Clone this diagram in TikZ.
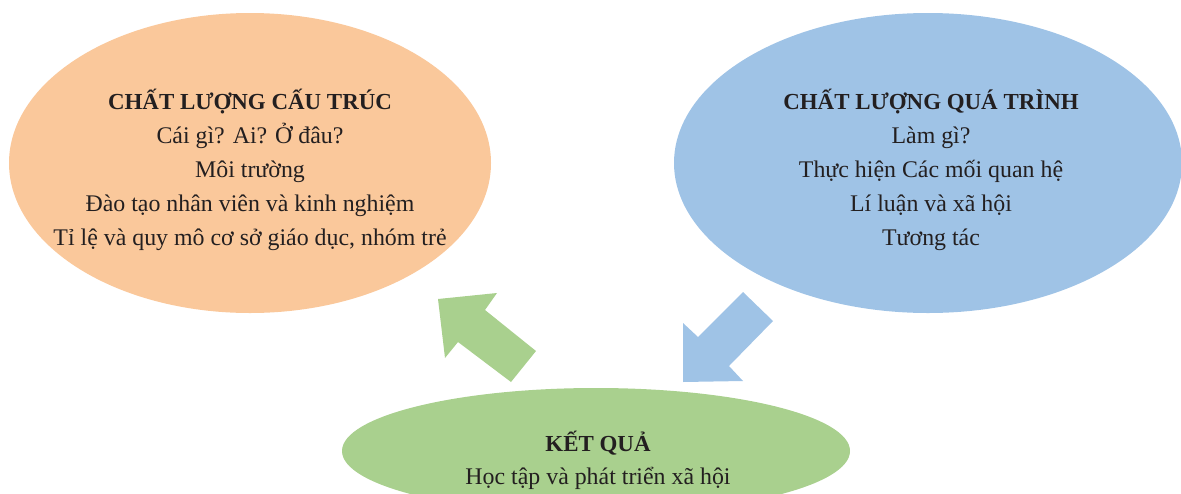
\documentclass[tikz,border=0pt]{standalone}
\usepackage{fontspec}
\setmainfont{Liberation Serif}
\usetikzlibrary{shapes.geometric}
\definecolor{orangefill}{RGB}{250,200,155}
\definecolor{bluefill}{RGB}{159,195,230}
\definecolor{greenfill}{RGB}{169,208,142}
\definecolor{inktext}{RGB}{35,31,32}
\tikzset{
  blob/.style={ellipse, draw=none, inner sep=0pt},
  txt/.style={anchor=base, inner sep=0pt, text=inktext, font=\fontsize{17.9}{21}\selectfont},
  head/.style={txt, font=\fontsize{17.2}{21}\selectfont\bfseries},
}
\begin{document}
\begin{tikzpicture}[x=0.75pt, y=-0.75pt]
\useasboundingbox (0,0) rectangle (1181,493);
\clip (0,0) rectangle (1181,493);
% ellipses
\node[blob, fill=orangefill, minimum width=482*0.75pt, minimum height=300*0.75pt] (cs) at (250,163) {};
\node[blob, fill=bluefill, minimum width=508*0.75pt, minimum height=300*0.75pt] (qt) at (928,163) {};
\node[blob, fill=greenfill, minimum width=508*0.75pt, minimum height=126*0.75pt] (kq) at (596,451) {};
% block arrows
\fill[greenfill] (438,299) -- (497,293) -- (485,310) -- (536,351) -- (511,382) -- (458,342) -- (445,358) -- cycle;
\fill[bluefill] (683,382) -- (683,323) -- (698,337) -- (743,292) -- (773,321) -- (729,366) -- (743,381) -- cycle;
% texts: structure quality
\node[head] (cs0) at (250,109) {CHẤT LƯỢNG CẤU TRÚC};
\node[txt] (cs1) at (250,143) {Cái gì? Ai? Ở đâu?};
\node[txt] (cs2) at (250,177) {Môi trường};
\node[txt] (cs3) at (250,211) {Đào tạo nhân viên và kinh nghiệm};
\node[txt] (cs4) at (250,245) {Tỉ lệ và quy mô cơ sở giáo dục, nhóm trẻ};
% texts: process quality
\node[head] (qt0) at (931,109) {CHẤT LƯỢNG QUÁ TRÌNH};
\node[txt] (qt1) at (931,143) {Làm gì?};
\node[txt] (qt2) at (931,177) {Thực hiện Các mối quan hệ};
\node[txt] (qt3) at (931,211) {Lí luận và xã hội};
\node[txt] (qt4) at (931,245) {Tương tác};
% texts: outcome
\node[head] (kq0) at (598,451) {KẾT QUẢ};
\node[txt] (kq1) at (598,484) {Học tập và phát triển xã hội};
\end{tikzpicture}
\end{document}
